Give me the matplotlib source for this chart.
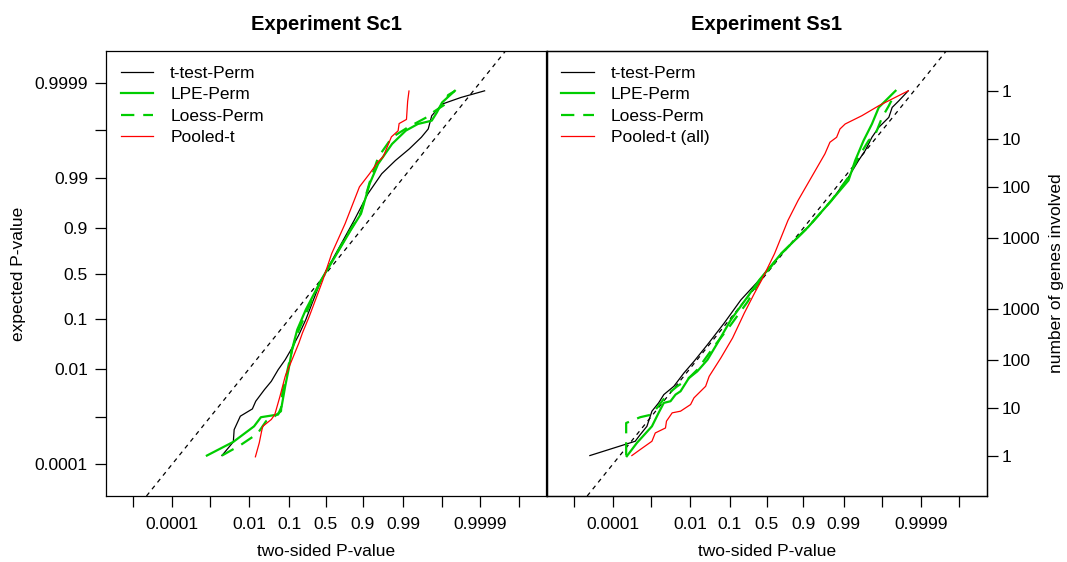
import numpy as np
import matplotlib
matplotlib.use('Agg')
import matplotlib.pyplot as plt

plt.rcParams['font.family'] = ['Liberation Sans', 'DejaVu Sans']

# all values are log-odds, log(p/(1-p))
# Experiment Sc1
sc1_ttest_x = [-6.22, -5.54, -5.49, -5.12, -4.40, -4.20, -3.68, -3.27, -2.86, -2.44, -2.03, -1.62, -1.21, -0.79, -0.28,
               0.86, 1.68, 2.51, 3.33, 4.15, 4.98, 5.70, 6.11, 6.32, 6.94, 8.07, 9.48]
sc1_ttest_y = [-8.78, -8.12, -7.53, -6.88, -6.53, -6.16, -5.60, -5.20, -4.64, -4.16, -3.59, -2.95, -2.23, -1.35, -0.30,
               1.36, 2.56, 3.85, 4.81, 5.45, 6.01, 6.57, 6.97, 7.61, 8.17, 8.49, 8.81]
sc1_lpe_x = [-7.12, -5.54, -4.30, -3.89, -2.86, -2.65, -2.44, -2.24, -2.03, -1.72, -1.21, -0.28,
             0.65, 1.47, 2.09, 2.61, 3.12, 3.95, 4.77, 5.49, 6.32, 6.63, 6.94, 7.70]
sc1_lpe_y = [-8.78, -8.12, -7.37, -6.93, -6.80, -6.40, -5.44, -4.64, -3.67, -2.71, -1.75, -0.30,
             0.96, 2.08, 2.88, 4.33, 5.29, 6.25, 6.89, 7.21, 7.37, 7.77, 8.25, 8.81]
sc1_loess_x = [-6.22, -5.12, -4.09, -3.58, -3.06, -2.69, -2.61, -2.34, -2.03, -1.62, -1.10, -0.28,
               0.65, 1.47, 2.09, 2.61, 3.12, 3.95, 4.90, 6.01, 6.42, 7.20, 7.29, 7.70]
sc1_loess_y = [-8.78, -8.28, -7.72, -7.12, -6.88, -6.64, -5.76, -4.80, -3.67, -2.71, -1.75, -0.30,
               1.00, 2.12, 2.95, 4.40, 5.61, 6.57, 7.05, 7.53, 7.79, 8.20, 8.60, 8.80]
sc1_pooled_x = [-4.22, -3.99, -3.85, -3.78, -3.27, -3.06, -2.75, -2.44, -2.03, -1.62, -1.41, -1.00, -0.59, -0.18,
                0.34, 1.14, 2.00, 2.61, 3.12, 3.41, 3.91, 4.31, 4.37, 4.81, 4.88, 4.96]
sc1_pooled_y = [-8.84, -8.17, -7.61, -7.37, -7.04, -6.80, -5.92, -4.96, -4.16, -3.35, -2.87, -2.07, -1.19, -0.30,
                0.96, 2.40, 4.18, 4.82, 5.40, 5.62, 6.59, 6.88, 7.23, 7.43, 8.30, 8.80]

# Experiment Ss1
ss1_ttest_x = [-10.57, -7.86, -7.56, -7.16, -6.86, -6.46, -6.15, -5.55, -4.95, -4.35, -3.54, -2.54, -1.54, -0.43,
               0.87, 2.48, 3.88, 4.89, 5.49, 5.89, 6.29, 6.70, 7.30, 7.50, 7.90, 8.46]
ss1_ttest_y = [-8.78, -8.09, -7.77, -7.37, -6.64, -6.24, -5.84, -5.44, -4.80, -4.24, -3.43, -2.39, -1.27, -0.30,
               0.96, 2.24, 3.53, 4.65, 5.45, 5.93, 6.57, 7.05, 7.53, 8.01, 8.33, 8.81]
ss1_lpe_x = [-8.36, -7.76, -6.86, -6.46, -6.15, -5.75, -5.45, -5.15, -4.65, -4.15, -3.54, -2.94, -2.14, -1.13, -0.43,
             0.87, 2.48, 3.88, 4.89, 5.29, 5.79, 6.29, 6.70, 7.10, 7.70]
ss1_lpe_y = [-8.81, -8.17, -7.37, -6.72, -6.24, -6.16, -5.84, -5.68, -5.04, -4.72, -4.16, -3.35, -2.23, -1.11, -0.30,
             0.96, 2.24, 3.53, 4.49, 5.45, 6.41, 7.21, 8.01, 8.33, 8.81]
ss1_loess_x = [-8.40, -8.40, -7.56, -6.86, -6.56, -5.95, -5.35, -4.75, -4.15, -3.14, -2.14, -1.13, -0.43,
               0.87, 2.48, 3.88, 4.89, 5.49, 6.09, 6.50, 6.90, 7.30, 7.60]
ss1_loess_y = [-8.78, -7.21, -6.93, -6.80, -6.48, -5.84, -5.44, -5.12, -4.64, -3.51, -2.47, -1.35, -0.38,
               0.96, 2.24, 3.53, 4.65, 5.61, 6.41, 6.73, 7.53, 8.09, 8.57]
ss1_pooled_x = [-8.06, -7.56, -6.86, -6.66, -6.05, -5.99, -5.65, -5.15, -4.55, -4.35, -3.65, -3.44, -2.74, -2.04, -1.34,
                -0.73, -0.29, 0.47, 1.27, 1.88, 2.68, 3.48, 3.78, 4.18, 4.38, 4.69, 5.69, 6.70, 8.46]
ss1_pooled_y = [-8.78, -8.49, -8.09, -7.69, -7.45, -7.12, -6.72, -6.64, -6.32, -6.00, -5.44, -4.96, -4.07, -3.11, -1.91,
                -0.95, -0.30, 0.96, 2.56, 3.53, 4.65, 5.77, 6.33, 6.57, 6.97, 7.21, 7.61, 8.09, 8.81]

p_ticks = [1e-5, 1e-4, 1e-3, 1e-2, 0.1, 0.5, 0.9, 0.99, 0.999, 0.9999, 0.99999]
p_labels = ['', '0.0001', '', '0.01', '0.1', '0.5', '0.9', '0.99', '', '0.9999', '']
y_ticks = [1e-4, 1e-3, 1e-2, 0.1, 0.5, 0.9, 0.99, 0.999, 0.9999]
y_labels = ['0.0001', '', '0.01', '0.1', '0.5', '0.9', '0.99', '', '0.9999']
gene_counts = [1, 10, 100, 1000]
n_genes = 6500


def logodds(p):
    p = np.asarray(p, dtype=float)
    return np.log(p / (1 - p))


green = '#00CD00'
fs = 12.5
xlim = (-13.15, 13.15)
ylim = (-10.73, 10.73)

fig = plt.figure(figsize=(10.67, 5.62), dpi=100)
ax1 = fig.add_axes([106/1067, 1-496/562, 440/1067, 445/562])
ax2 = fig.add_axes([546.7/1067, 1-496/562, 440/1067, 445/562])

panels = [
    (ax1, 'Experiment Sc1', 'Pooled-t',
     (sc1_ttest_x, sc1_ttest_y), (sc1_lpe_x, sc1_lpe_y), (sc1_loess_x, sc1_loess_y), (sc1_pooled_x, sc1_pooled_y)),
    (ax2, 'Experiment Ss1', 'Pooled-t (all)',
     (ss1_ttest_x, ss1_ttest_y), (ss1_lpe_x, ss1_lpe_y), (ss1_loess_x, ss1_loess_y), (ss1_pooled_x, ss1_pooled_y)),
]

for ax, title, pooled_name, tt, lpe, lo, pt in panels:
    ax.axline((0, 0), slope=1, color='k', lw=0.9, ls=(0, (3.5, 3.5)))
    ax.plot(tt[0], tt[1], color='k', lw=0.9, label='t-test-Perm')
    ax.plot(lpe[0], lpe[1], color=green, lw=1.6, label='LPE-Perm')
    ax.plot(lo[0], lo[1], color=green, lw=1.6, ls=(0, (6, 4)), label='Loess-Perm')
    ax.plot(pt[0], pt[1], color='red', lw=0.9, label=pooled_name)
    ax.set_xlim(*xlim)
    ax.set_ylim(*ylim)
    ax.set_xticks(logodds(p_ticks))
    ax.set_xticklabels(p_labels)
    ax.tick_params(axis='both', direction='out', length=8, width=0.9, labelsize=fs, pad=5)
    ax.tick_params(axis='x', pad=7)
    ax.set_xlabel('two-sided P-value', fontsize=fs, labelpad=9)
    ax.set_title(title, fontsize=14.5, fontweight='bold', pad=15)
    for s in ax.spines.values():
        s.set_linewidth(0.9)
    ax.legend(loc='upper left', frameon=False, fontsize=fs, handlelength=1.85, handletextpad=1.0,
              labelspacing=0.36, borderaxespad=0.45, borderpad=0.4)

ax1.set_yticks(logodds(y_ticks))
ax1.set_yticklabels(y_labels)
ax1.set_ylabel('expected P-value', fontsize=fs, labelpad=6)

ax2.set_yticks([])
k = np.array(gene_counts, dtype=float)
gene_pos = list(-logodds(k / n_genes)) + list(logodds(k / n_genes))[::-1]
gene_lab = [str(g) for g in gene_counts] + [str(g) for g in gene_counts[::-1]]
ax2r = ax2.twinx()
ax2r.set_ylim(*ylim)
ax2r.set_yticks(gene_pos)
ax2r.set_yticklabels(gene_lab)
ax2r.tick_params(axis='y', direction='out', length=8, width=0.9, labelsize=fs, pad=3)
ax2r.set_ylabel('number of genes involved', fontsize=fs, labelpad=6)
for s in ax2r.spines.values():
    s.set_linewidth(0.9)

fig.savefig('out.png', dpi=100)
